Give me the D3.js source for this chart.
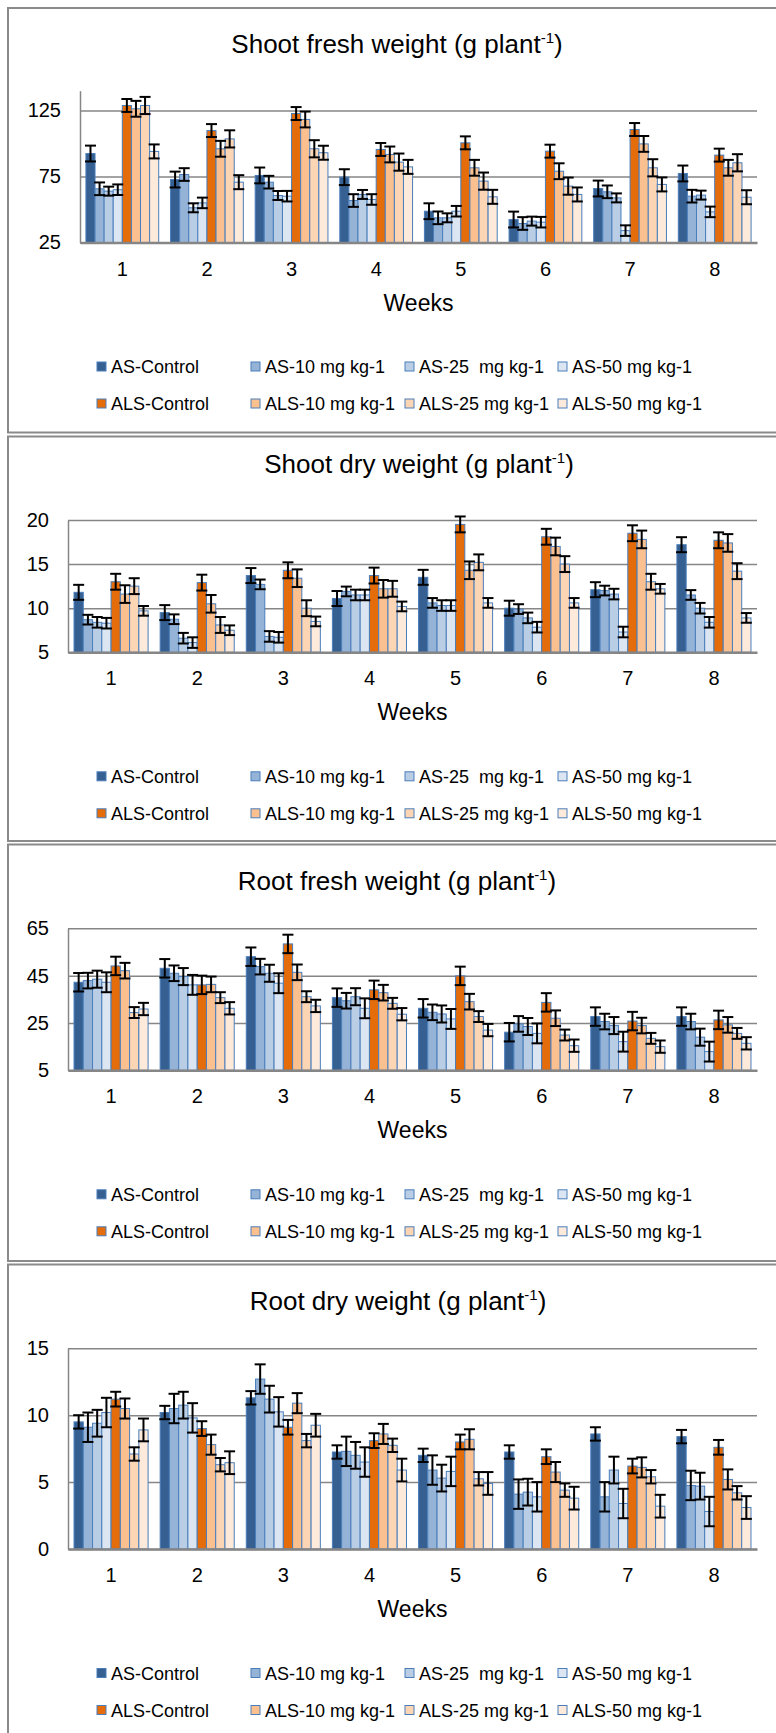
<!DOCTYPE html>
<html lang="en">
<head>
<meta charset="UTF-8">
<title>Biomass by week</title>
<script src="https://cdn.jsdelivr.net/npm/d3@7/dist/d3.min.js"></script>
<style>
    body { margin: 0; background: #fff; }
    svg text { font-family: "Liberation Sans", Arial, sans-serif; fill: #000; }
    .legend text { white-space: pre; }
</style>
</head>
<body>
<div id="chart"></div>
<script>
// ---- data ----
var weeks = ["1", "2", "3", "4", "5", "6", "7", "8"];

var seriesNames = ["AS-Control", "AS-10 mg kg-1", "AS-25  mg kg-1", "AS-50 mg kg-1",
                   "ALS-Control", "ALS-10 mg kg-1", "ALS-25 mg kg-1", "ALS-50 mg kg-1"];
var seriesColors = ["#376092", "#95b3d7", "#b9cde5", "#dce6f2",
                    "#e46c0a", "#fac090", "#fcd5b5", "#fdeada"];

// one row per series, one value per week
var shootFresh = [
    [92.4, 72.7, 75.8, 74.5, 48.7, 42.4, 65.9, 77.3],
    [65.7, 76.5, 70.7, 56.8, 43.7, 39.4, 63.4, 60.1],
    [63.9, 51.3, 60.6, 61.4, 43.7, 41.2, 58.8, 60.9],
    [65.0, 55.0, 60.1, 57.6, 48.7, 40.4, 34.0, 48.2],
    [128.8, 109.8, 122.7, 95.5, 100.5, 94.2, 110.6, 91.2],
    [126.3, 96.0, 118.2, 91.7, 81.6, 79.0, 99.7, 81.6],
    [128.8, 103.5, 96.0, 85.9, 71.5, 67.7, 81.6, 85.4],
    [94.0, 70.7, 93.0, 82.3, 59.6, 61.4, 69.0, 59.3]
];
var shootFreshErr = [6, 4.8, 3.4, 4, 4.9, 6, 6.5, 5.3];
var shootFreshTicks = [25, 75, 125];

var shootDry = [
    [11.8, 9.5, 13.7, 11.1, 13.5, 10.0, 12.1, 17.2],
    [8.7, 8.75, 12.7, 11.9, 10.6, 9.9, 12.0, 11.5],
    [8.4, 6.6, 6.8, 11.5, 10.3, 8.9, 11.6, 10.0],
    [8.3, 6.1, 6.7, 11.5, 10.3, 7.85, 7.3, 8.4],
    [13.0, 12.9, 14.3, 13.7, 19.5, 18.1, 18.5, 17.7],
    [11.6, 10.5, 13.4, 12.2, 14.3, 17.0, 17.8, 17.4],
    [12.5, 8.1, 10.0, 12.2, 15.2, 15.0, 13.0, 14.2],
    [9.7, 7.5, 8.5, 10.2, 10.6, 10.6, 12.2, 8.9]
];
var shootDryErr = [0.85, 0.55, 0.6, 0.6, 0.9, 1.0, 0.9, 0.55];
var shootDryTicks = [5, 10, 15, 20];

var rootFresh = [
    [42.2, 48.1, 53.0, 35.7, 31.2, 21.1, 27.7, 27.7],
    [42.9, 46.0, 48.8, 34.4, 29.5, 24.6, 25.6, 25.6],
    [43.5, 44.6, 46.0, 36.1, 28.8, 23.5, 23.9, 19.0],
    [42.2, 41.1, 41.8, 31.2, 26.7, 20.6, 17.1, 12.9],
    [49.1, 41.1, 58.4, 39.0, 44.9, 33.7, 25.8, 26.3],
    [47.1, 41.3, 46.4, 37.8, 34.0, 27.0, 23.9, 24.2],
    [29.4, 35.7, 36.1, 33.3, 27.7, 19.9, 18.5, 20.6],
    [30.9, 31.2, 32.2, 28.7, 22.0, 15.4, 15.0, 16.4]
];
var rootFreshErr = [3.9, 3.3, 3.6, 4.2, 3.9, 3.3, 2.3, 2.6];
var rootFreshTicks = [5, 25, 45, 65];

var rootDry = [
    [9.5, 10.2, 11.3, 7.25, 7.0, 7.25, 8.6, 8.4],
    [9.1, 10.5, 12.7, 7.3, 5.9, 4.1, 3.9, 4.75],
    [9.4, 10.75, 11.2, 7.0, 5.3, 4.25, 5.9, 4.7],
    [10.2, 9.8, 10.25, 6.5, 5.8, 3.9, 3.4, 2.8],
    [11.2, 9.0, 9.1, 8.1, 8.0, 6.9, 6.2, 7.6],
    [10.5, 7.8, 10.9, 8.6, 8.2, 5.75, 6.1, 5.2],
    [7.1, 6.3, 8.1, 7.75, 5.25, 4.4, 5.4, 4.2],
    [8.9, 6.45, 9.25, 5.9, 4.9, 3.8, 3.2, 3.1]
];
var rootDryErr = [0.5, 1.1, 1.0, 1.1, 0.55, 0.75, 0.5, 0.85];
var rootDryTicks = [0, 5, 10, 15];

// ---- layout ----
var W = 776, H = 1733;
var plotRight = 757;
var legendCols = [97, 251, 405, 558];

var panels = [
    { title: "Shoot fresh weight", values: shootFresh, err: shootFreshErr, ticks: shootFreshTicks,
      domain: [25, 140], top: 8, bottom: 432.5, titleX: 397, titleY: 53,
      left: 80, axisY: 242.5, topY: 90.7 },
    { title: "Shoot dry weight", values: shootDry, err: shootDryErr, ticks: shootDryTicks,
      domain: [5, 20], top: 436.5, bottom: 841, titleX: 419, titleY: 473,
      left: 68, axisY: 652.3, topY: 520 },
    { title: "Root fresh weight", values: rootFresh, err: rootFreshErr, ticks: rootFreshTicks,
      domain: [5, 65], top: 844.5, bottom: 1261, titleX: 397, titleY: 890,
      left: 68, axisY: 1070.3, topY: 928.3 },
    { title: "Root dry weight", values: rootDry, err: rootDryErr, ticks: rootDryTicks,
      domain: [0, 15], top: 1264.5, bottom: 1745, titleX: 398, titleY: 1310,
      left: 68, axisY: 1549, topY: 1348.3 }
];

var svg = d3.select("#chart").append("svg")
    .attr("width", W)
    .attr("height", H);

panels.forEach(drawPanel);

function drawPanel(p)
{
    var g = svg.append("g");

    // frame (right edge falls outside the picture)
    g.append("rect")
        .attr("x", 8).attr("y", p.top)
        .attr("width", W + 20).attr("height", p.bottom - p.top)
        .attr("fill", "#fff")
        .attr("stroke", "#8a8a8a")
        .attr("stroke-width", 2);

    // title with superscript
    var t = g.append("text")
        .attr("x", p.titleX).attr("y", p.titleY)
        .attr("text-anchor", "middle")
        .style("font-size", "26px");
    t.append("tspan").text(p.title + " (g plant");
    t.append("tspan").attr("dy", -10).style("font-size", "15px").text("-1");
    t.append("tspan").attr("dy", 10).text(")");

    var x0 = d3.scaleBand()
        .domain(weeks)
        .range([p.left, plotRight])
        .paddingInner(0.14)
        .paddingOuter(0.07);

    var x1 = d3.scaleBand()
        .domain(d3.range(seriesNames.length))
        .range([0, x0.bandwidth()]);

    var y = d3.scaleLinear()
        .domain(p.domain)
        .range([p.axisY, p.topY]);

    // gridlines
    g.append("g")
        .attr("transform", "translate(" + p.left + ",0)")
        .call(d3.axisLeft(y).tickValues(p.ticks).tickSize(-(plotRight - p.left)).tickFormat(""))
        .call(function(a) {
            a.select(".domain").remove();
            a.selectAll("line").attr("stroke", "#868686").attr("stroke-width", 1.5);
        });

    // y axis line + labels
    g.append("g")
        .attr("transform", "translate(" + p.left + ",0)")
        .call(d3.axisLeft(y).tickValues(p.ticks).tickSize(0).tickPadding(19))
        .call(function(a) {
            a.select(".domain").attr("stroke", "#868686").attr("stroke-width", 1.5);
            a.selectAll("text")
                .style("font-size", "20px")
                .attr("font-family", null);
        });

    // bars
    var rows = p.values.map(function(vals, si) {
        return vals.map(function(v, wi) {
            return { s: si, week: weeks[wi], v: v, e: p.err[si] };
        });
    });
    var flat = d3.merge(rows);

    g.append("g").selectAll("rect")
        .data(flat)
        .enter().append("rect")
        .attr("x", function(d) { return x0(d.week) + x1(d.s); })
        .attr("y", function(d) { return y(d.v); })
        .attr("width", x1.bandwidth())
        .attr("height", function(d) { return p.axisY - y(d.v); })
        .attr("fill", function(d) { return seriesColors[d.s]; })
        .attr("stroke", "#4a7ebb")
        .attr("stroke-width", 1);

    // error bars
    var eb = g.append("g").selectAll("g")
        .data(flat)
        .enter().append("g")
        .attr("stroke", "#000")
        .attr("stroke-width", 2);

    function cx(d) { return x0(d.week) + x1(d.s) + x1.bandwidth() / 2; }

    eb.append("line")
        .attr("x1", cx).attr("x2", cx)
        .attr("y1", function(d) { return y(d.v + d.e); })
        .attr("y2", function(d) { return y(d.v - d.e); });
    eb.append("line")
        .attr("x1", function(d) { return cx(d) - 5.5; })
        .attr("x2", function(d) { return cx(d) + 5.5; })
        .attr("y1", function(d) { return y(d.v + d.e); })
        .attr("y2", function(d) { return y(d.v + d.e); });
    eb.append("line")
        .attr("x1", function(d) { return cx(d) - 5.5; })
        .attr("x2", function(d) { return cx(d) + 5.5; })
        .attr("y1", function(d) { return y(d.v - d.e); })
        .attr("y2", function(d) { return y(d.v - d.e); });

    // x axis
    g.append("g")
        .attr("transform", "translate(0," + p.axisY + ")")
        .call(d3.axisBottom(x0).tickSize(0))
        .call(function(a) {
            a.select(".domain").attr("stroke", "#868686").attr("stroke-width", 2.5);
            a.selectAll("text")
                .attr("y", 33).attr("dy", null)
                .style("font-size", "20px")
                .attr("font-family", null);
        });

    g.append("text")
        .attr("x", (p.left + plotRight) / 2)
        .attr("y", p.axisY + 68)
        .attr("text-anchor", "middle")
        .style("font-size", "23px")
        .text("Weeks");

    // legend: two rows of four
    var lg = g.append("g").attr("class", "legend");
    seriesNames.forEach(function(name, i) {
        var lx = legendCols[i % 4];
        var ly = p.axisY + (i < 4 ? 124.5 : 161.5);
        lg.append("rect")
            .attr("x", lx).attr("y", ly - 5)
            .attr("width", 9).attr("height", 9)
            .attr("fill", seriesColors[i])
            .attr("stroke", "#4a7ebb")
            .attr("stroke-width", 1);
        lg.append("text")
            .attr("x", lx + 14).attr("y", ly)
            .attr("dy", "0.35em")
            .style("font-size", "18px")
            .text(name);
    });
}
</script>
</body>
</html>
